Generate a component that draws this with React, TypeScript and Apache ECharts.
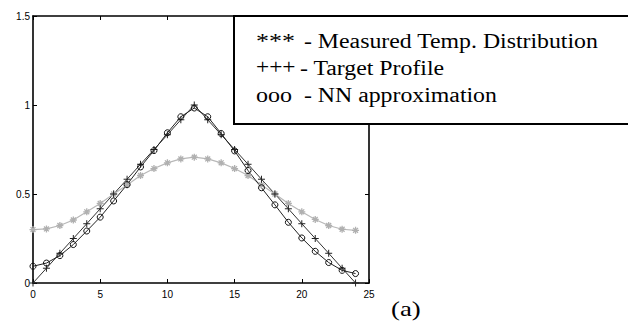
import React, { useEffect, useRef } from "react";
import * as echarts from "echarts";

const xs = [0, 1, 2, 3, 4, 5, 6, 7, 8, 9, 10, 11, 12, 13, 14, 15, 16, 17, 18, 19, 20, 21, 22, 23, 24];
const measured = [0.3, 0.304, 0.323, 0.354, 0.4, 0.447, 0.5, 0.551, 0.604, 0.643, 0.675, 0.697, 0.707, 0.697, 0.675, 0.643, 0.604, 0.551, 0.5, 0.447, 0.4, 0.357, 0.323, 0.302, 0.296];
const target = [0, 0.083, 0.167, 0.25, 0.333, 0.417, 0.5, 0.583, 0.667, 0.75, 0.833, 0.917, 1, 0.917, 0.833, 0.75, 0.667, 0.583, 0.5, 0.417, 0.333, 0.25, 0.167, 0.083, 0];
const nn = [0.094, 0.112, 0.154, 0.216, 0.292, 0.37, 0.461, 0.553, 0.652, 0.744, 0.844, 0.934, 0.983, 0.934, 0.84, 0.742, 0.632, 0.535, 0.439, 0.341, 0.253, 0.178, 0.115, 0.071, 0.053];
const legendLines = [
  { sym: "***", label: "- Measured Temp. Distribution", lx: 304, sx: 1.3, y: 41.5 },
  { sym: "+++", label: "- Target Profile", lx: 300, sx: 1.17, y: 68 },
  { sym: "ooo", label: "- NN approximation", lx: 304, sx: 1.2, y: 95 },
];
const caption = "(a)";

const PLUS = "path://M5,0L5,10M0,5L10,5";
const STAR = "path://M5,0L5,10M0,5L10,5M1.5,1.5L8.5,8.5M8.5,1.5L1.5,8.5";
const SERIF = "'Liberation Serif', 'Times New Roman', serif";

export default function App() {
  const ref = useRef<HTMLDivElement>(null);
  useEffect(() => {
    document.body.style.margin = "0";
    const chart = echarts.init(ref.current!, null, { renderer: "svg" });
    const pair = (ys: number[]) => xs.map((x, i) => [x, ys[i]]);
    const axisCommon = {
      type: "value" as const,
      axisLine: { show: true, onZero: false, lineStyle: { color: "#000", width: 1.6 } },
      axisTick: { show: true, inside: true, length: 4, lineStyle: { color: "#000", width: 1 } },
      splitLine: { show: false },
    };
    const labelStyle = { color: "#000", fontFamily: "Liberation Sans", fontSize: 10 };
    chart.setOption({
      animation: false,
      grid: { left: 33, right: 259, top: 16, bottom: 39 },
      xAxis: [
        { ...axisCommon, position: "bottom", min: 0, max: 25, interval: 5, axisLabel: { ...labelStyle, margin: 6 } },
        { ...axisCommon, position: "top", min: 0, max: 25, interval: 5, axisLabel: { show: false } },
      ],
      yAxis: [
        { ...axisCommon, position: "left", min: 0, max: 1.5, interval: 0.5, axisLabel: { ...labelStyle, margin: 3 } },
        { ...axisCommon, position: "right", min: 0, max: 1.5, interval: 0.5, axisLabel: { show: false } },
      ],
      series: [
        {
          type: "line",
          data: pair(measured),
          symbol: STAR,
          symbolSize: 7,
          showAllSymbol: true,
          itemStyle: { color: "none", borderColor: "#b0b0b0", borderWidth: 1.3 },
          lineStyle: { color: "#b8b8b8", width: 1.2 },
        },
        {
          type: "line",
          data: pair(target),
          symbol: PLUS,
          symbolSize: 7,
          showAllSymbol: true,
          itemStyle: { color: "none", borderColor: "#222", borderWidth: 1 },
          lineStyle: { color: "#333", width: 1 },
        },
        {
          type: "line",
          data: pair(nn),
          symbol: "circle",
          symbolSize: 6,
          showAllSymbol: true,
          itemStyle: { color: "rgba(255,255,255,0)", borderColor: "#111", borderWidth: 1 },
          lineStyle: { color: "#222", width: 1 },
        },
      ],
      graphic: [
        {
          type: "rect",
          z: 100,
          shape: { x: 234, y: 16, width: 420, height: 108 },
          style: { fill: "#fff", stroke: "#000", lineWidth: 2 },
        },
        ...legendLines.flatMap((l) => [
          {
            type: "text",
            z: 101,
            x: 256,
            y: l.y,
            scaleX: l.sx,
            style: { text: l.sym, font: `20px ${SERIF}`, fill: "#000", verticalAlign: "middle" },
          },
          {
            type: "text",
            z: 101,
            x: l.lx,
            y: l.y,
            scaleX: 1.19,
            style: { text: l.label, font: `20px ${SERIF}`, fill: "#000", verticalAlign: "middle" },
          },
        ]),
        {
          type: "text",
          z: 101,
          x: 391,
          y: 308,
          scaleX: 1.22,
          style: { text: caption, font: `22px ${SERIF}`, fill: "#000", verticalAlign: "middle" },
        },
      ],
    });
    return () => chart.dispose();
  }, []);
  return <div ref={ref} style={{ width: 628, height: 322 }} />;
}
